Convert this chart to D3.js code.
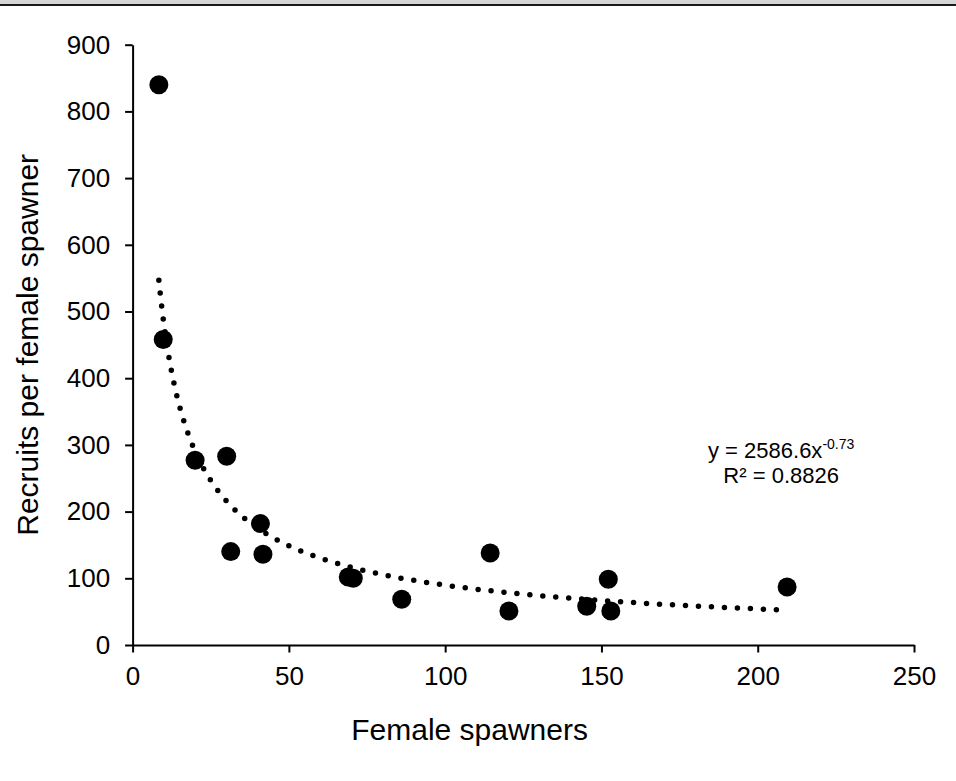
<!DOCTYPE html>
<html>
<head>
<meta charset="utf-8">
<script src="https://cdn.jsdelivr.net/npm/d3@7"></script>
<style>
  body { margin: 0; background: #fff; }
  svg { display: block; font-family: Arial, "Liberation Sans", sans-serif; }
</style>
</head>
<body>
<div id="chart"></div>
<script>
// Female spawners vs recruits per female spawner
const spawners = [8.4, 9.8, 20.0, 30.1, 31.4, 40.9, 41.7, 69.0, 70.6, 86.1, 114.4, 120.4, 145.3, 152.2, 153.0, 209.4];
const recruits = [840, 458, 277, 283, 140, 182, 136, 102, 100, 68.5, 138, 51, 58, 98.5, 51, 87];

// Power trendline shown on the chart
const trendA = 2586.6;
const trendB = -0.73;
const rSquared = 0.8826;

const xTicks = [0, 50, 100, 150, 200, 250];
const yTicks = [0, 100, 200, 300, 400, 500, 600, 700, 800, 900];

const W = 956, H = 781;
const margin = {top: 44.7, right: 42, bottom: 136, left: 132.6};
const width = W - margin.left - margin.right;
const height = H - margin.top - margin.bottom;

const svg = d3.select('#chart').append('svg')
    .attr('width', W)
    .attr('height', H);

// window frame strip at the top
svg.append('rect').attr('x', 0).attr('y', 0).attr('width', W).attr('height', 4).attr('fill', '#d6d6d6');
svg.append('rect').attr('x', 0).attr('y', 4).attr('width', W).attr('height', 2).attr('fill', '#1a1a1a');

const g = svg.append('g')
    .attr('transform', `translate(${margin.left},${margin.top})`);

const xScale = d3.scaleLinear().domain([0, 250]).range([0, width]);
const yScale = d3.scaleLinear().domain([0, 900]).range([height, 0]);

// Axes
const xAxis = g.append('g')
    .attr('transform', `translate(0,${height})`)
    .call(d3.axisBottom(xScale).tickValues(xTicks).tickSize(7.5).tickSizeOuter(0).tickPadding(14));

const yAxis = g.append('g')
    .call(d3.axisLeft(yScale).tickValues(yTicks).tickSize(7.5).tickSizeOuter(0).tickPadding(15));

[xAxis, yAxis].forEach(a => {
    a.select('.domain').attr('stroke', '#000').attr('stroke-width', 2);
    a.selectAll('.tick line').attr('stroke', '#000').attr('stroke-width', 2);
    a.selectAll('.tick text')
        .attr('fill', '#000')
        .style('font-size', '26px')
        .style('font-family', 'Arial, "Liberation Sans", sans-serif');
});

// Axis titles
g.append('text')
    .attr('x', 337)
    .attr('y', height + 95)
    .attr('text-anchor', 'middle')
    .style('font-size', '30px')
    .text('Female spawners');

g.append('text')
    .attr('transform', 'rotate(-90)')
    .attr('x', -height / 2)
    .attr('y', -95)
    .attr('text-anchor', 'middle')
    .style('font-size', '30px')
    .text('Recruits per female spawner');

// Trendline (dotted)
const xMin = d3.min(spawners), xMax = d3.max(spawners);
const trendX = d3.range(xMin, xMax, 0.25).concat([xMax]);
const line = d3.line()
    .x(d => xScale(d))
    .y(d => yScale(trendA * Math.pow(d, trendB)));

g.append('path')
    .datum(trendX)
    .attr('d', line)
    .attr('fill', 'none')
    .attr('stroke', '#000')
    .attr('stroke-width', 5.5)
    .attr('stroke-linecap', 'round')
    .attr('stroke-dasharray', '0 13');

// Points
g.selectAll('circle.pt')
    .data(spawners.map((x, i) => ({x, y: recruits[i]})))
  .enter().append('circle')
    .attr('class', 'pt')
    .attr('cx', d => xScale(d.x))
    .attr('cy', d => yScale(d.y))
    .attr('r', 9.5)
    .attr('fill', '#000');

// Equation label
const eq = g.append('text')
    .attr('x', xScale(207.5))
    .attr('y', yScale(280))
    .attr('text-anchor', 'middle')
    .style('font-size', '22px');
eq.append('tspan').text(`y = ${trendA}x`);
eq.append('tspan').attr('dy', -9).style('font-size', '14px').text(trendB.toFixed(2));

g.append('text')
    .attr('x', xScale(207.5))
    .attr('y', yScale(243))
    .attr('text-anchor', 'middle')
    .style('font-size', '22px')
    .text(`R² = ${rSquared}`);
</script>
</body>
</html>
